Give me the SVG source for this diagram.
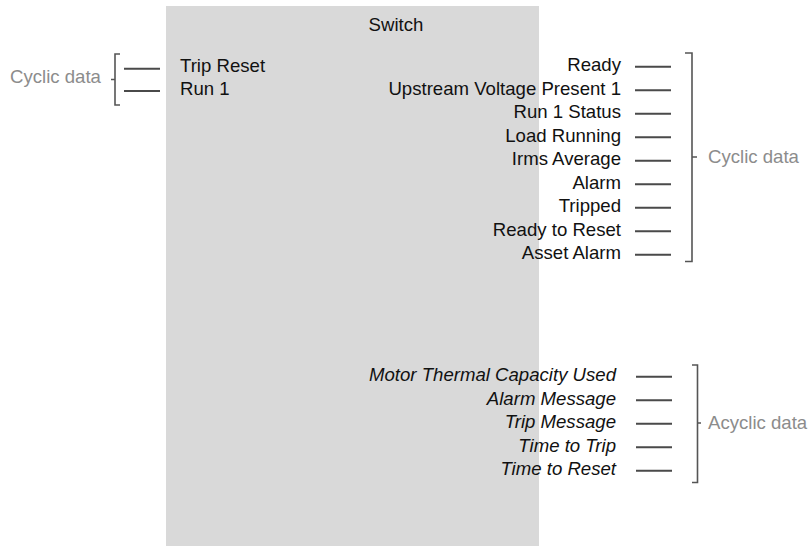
<svg xmlns="http://www.w3.org/2000/svg" width="809" height="546" viewBox="0 0 809 546">
<style>
.t{font-family:"Liberation Sans",Arial,sans-serif;font-size:18.6px;fill:#111}
.i{font-style:italic}
.g{font-family:"Liberation Sans",Arial,sans-serif;font-size:18.6px;fill:#8c8c8c}
.ln{stroke:#4a4a4a;stroke-width:2;fill:none}
.br{stroke:#555;stroke-width:1.6;fill:none}
</style>
<g id="switch">
<rect x="166" y="6" width="373" height="540" fill="#d9d9d9"/>
<text class="t" x="396" y="31" text-anchor="middle">Switch</text>
<text class="t" x="180" y="72.3">Trip Reset</text>
<text class="t" x="180" y="94.8">Run 1</text>
<g text-anchor="end">
<text class="t" x="621" y="71">Ready</text>
<text class="t" x="621" y="94.5">Upstream Voltage Present 1</text>
<text class="t" x="621" y="118">Run 1 Status</text>
<text class="t" x="621" y="141.5">Load Running</text>
<text class="t" x="621" y="165">Irms Average</text>
<text class="t" x="621" y="188.5">Alarm</text>
<text class="t" x="621" y="212">Tripped</text>
<text class="t" x="621" y="235.5">Ready to Reset</text>
<text class="t" x="621" y="259">Asset Alarm</text>
<text class="t i" x="616" y="381.3">Motor Thermal Capacity Used</text>
<text class="t i" x="616" y="404.8">Alarm Message</text>
<text class="t i" x="616" y="428.3">Trip Message</text>
<text class="t i" x="616" y="451.8">Time to Trip</text>
<text class="t i" x="616" y="475.3">Time to Reset</text>
</g>
</g>
<g id="connectors">
<path class="ln" d="M124 68.7H160M124 91H160"/>
<path class="ln" d="M635 66.7H671M635 90.2H671M635 113.7H671M635 137.2H671M635 160.7H671M635 184.2H671M635 207.7H671M635 231.2H671M635 254.7H671"/>
<path class="ln" d="M636 376.7H672M636 400.2H672M636 423.7H672M636 447.2H672M636 470.7H672"/>
</g>
<g id="bracket-left">
<path class="br" d="M120 54H115V105H120M115 79.5H111"/>
<text class="g" x="10" y="83">Cyclic data</text>
</g>
<g id="bracket-cyclic">
<path class="br" d="M685 53H692V261.5H685M692 157H697"/>
<text class="g" x="708" y="162.5">Cyclic data</text>
</g>
<g id="bracket-acyclic">
<path class="br" d="M692 365H697.5V482.5H692M697.5 423H701"/>
<text class="g" x="708" y="428.5">Acyclic data</text>
</g>
</svg>
